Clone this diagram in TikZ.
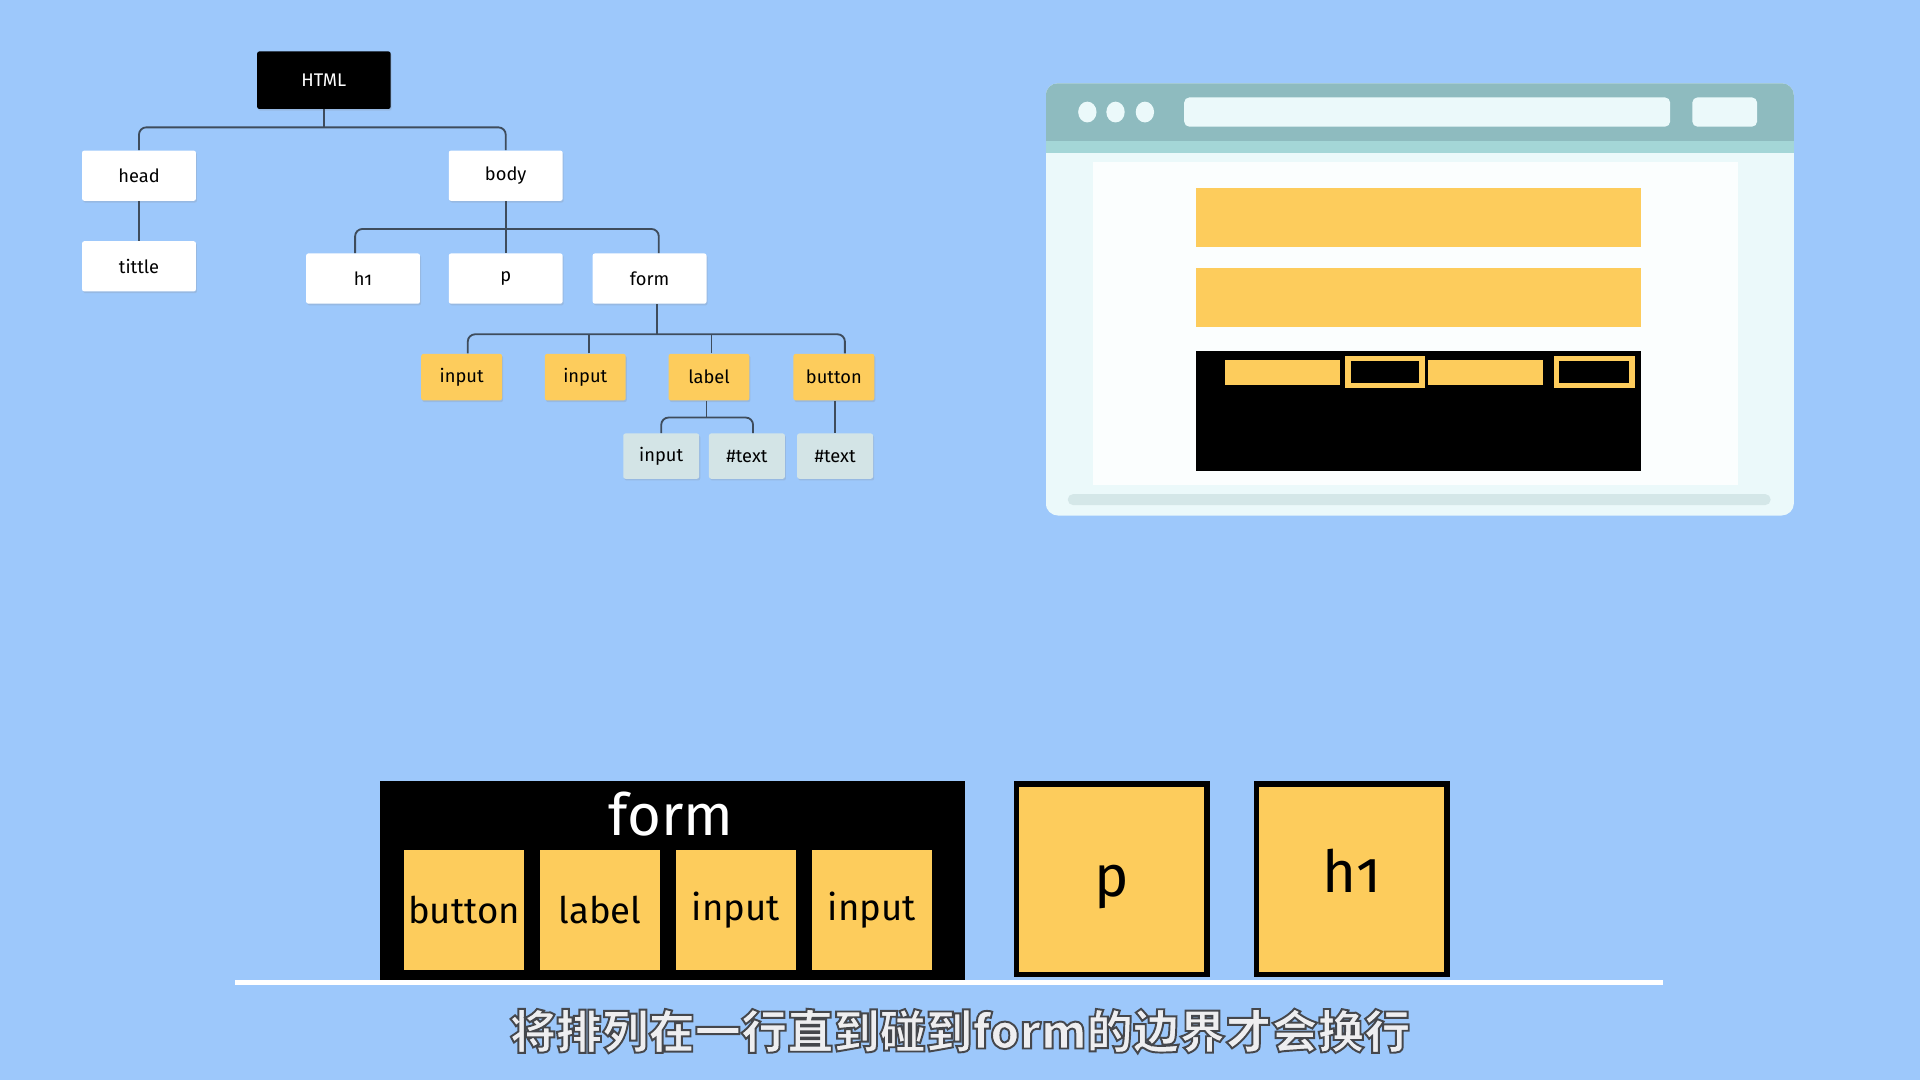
\documentclass[tikz,border=0pt]{standalone}
\usepackage{fontspec}
\setmainfont{Fira Sans}[Numbers=OldStyle]
\newfontfamily\cjk{Noto Sans CJK SC}
\usetikzlibrary{shadows}

\definecolor{bg}{RGB}{157,200,251}
\definecolor{tagyellow}{RGB}{253,204,92}
\definecolor{textgray}{RGB}{211,228,230}
\definecolor{wire}{RGB}{62,76,92}
\definecolor{barteal}{RGB}{142,187,191}
\definecolor{bandteal}{RGB}{164,214,215}
\definecolor{winbg}{RGB}{235,249,250}
\definecolor{pagebg}{RGB}{251,254,254}
\definecolor{scrollbg}{RGB}{212,231,232}
\definecolor{capfill}{RGB}{238,238,240}

\newcommand\outlined[1]{\special{pdf:code q 2 Tr 0.9 w 0.27 0.28 0.30 RG}#1\special{pdf:code Q}}

\tikzset{
  tag/.style={rectangle, rounded corners=1pt, inner sep=0pt,
    minimum width=1.86cm, minimum height=0.82cm, fill=white,
    font=\fontsize{8.5}{10}\selectfont,
    drop shadow={opacity=0.2, shadow xshift=0.5pt, shadow yshift=-0.8pt}},
  roottag/.style={tag, fill=black, text=white, minimum width=2.18cm, minimum height=0.94cm},
  formtag/.style={tag, fill=tagyellow, minimum width=1.32cm, minimum height=0.76cm},
  texttag/.style={tag, fill=textgray, minimum width=1.24cm, minimum height=0.74cm},
  link/.style={draw=wire, line width=0.85pt, rounded corners=3.4pt},
  cell/.style={rectangle, fill=tagyellow, inner sep=0pt, minimum size=1.96cm,
    font=\fontsize{17}{20}\selectfont},
  bigbox/.style={rectangle, fill=tagyellow, draw=black, line width=2.55pt,
    inner sep=0pt, minimum size=3.11cm, font=\fontsize{27}{32}\selectfont},
  captext/.style={font=\cjk\bfseries\fontsize{21.5}{26}\selectfont, inner sep=0pt, text=capfill}
}

\begin{document}
\begin{tikzpicture}[x=0.02cm, y=-0.02cm]

  \fill[bg] (0,0) rectangle (1568,882);
  \useasboundingbox (0,0) rectangle (1568,882);

  \node[roottag] (html) at (264.5,65.5) {HTML};
  \node[tag] (head) at (113.5,143.5) {head};
  \node[tag] (tittle) at (113.5,217.5) {tittle};
  \node[tag] (body) at (413,143.5) {body};
  \node[tag] (h1) at (296.5,227.5) {h1};
  \node[tag] (p) at (413,227.5) {p};
  \node[tag] (form) at (530.5,227.5) {form};

  \node[formtag] (in1) at (377,308) {input};
  \node[formtag] (in2) at (478,308) {input};
  \node[formtag] (lab) at (579,308) {label};
  \node[formtag] (btn) at (681,308) {button};

  \node[texttag] (in3) at (540,372.5) {input};
  \node[texttag] (txt1) at (610,372.5) {\#text};
  \node[texttag] (txt2) at (682,372.5) {\#text};

  \coordinate (bar1) at (0,104);
  \coordinate (bar2) at (0,187);
  \coordinate (bar3) at (0,273);
  \coordinate (bar4) at (0,341);

  \draw[link] (html.south) -- (html.south |- bar1);
  \draw[link] (head.north) -- (head.north |- bar1) -- (body.north |- bar1) -- (body.north);
  \draw[link] (head.south) -- (tittle.north);
  \draw[link] (body.south) -- (p.north);
  \draw[link] ([xshift=-0.13cm]h1.north) -- ([xshift=-0.13cm]h1.north |- bar2)
    -- ([xshift=0.15cm]form.north |- bar2) -- ([xshift=0.15cm]form.north);
  \draw[link] ([xshift=0.12cm]form.south) -- ([xshift=0.12cm]form.south |- bar3);
  \draw[link] ([xshift=0.1cm]in1.north) -- ([xshift=0.1cm]in1.north |- bar3)
    -- ([xshift=0.18cm]btn.north |- bar3) -- ([xshift=0.18cm]btn.north);
  \draw[link] ([xshift=0.06cm]in2.north) -- ([xshift=0.06cm]in2.north |- bar3);
  \draw[link] ([xshift=0.04cm]lab.north) -- ([xshift=0.04cm]lab.north |- bar3);
  \draw[link] ([xshift=-0.04cm]lab.south) -- ([xshift=-0.04cm]lab.south |- bar4);
  \draw[link] (in3.north) -- (in3.north |- bar4)
    -- ([xshift=0.1cm]txt1.north |- bar4) -- ([xshift=0.1cm]txt1.north);
  \draw[link] ([xshift=0.02cm]btn.south) -- (txt2.north);

  % browser window
  \begin{scope}
    \clip[rounded corners=5.7pt] (854,68) rectangle (1465,421);
    \fill[winbg] (854,68) rectangle (1465,421);
    \fill[barteal] (854,68) rectangle (1465,115);
    \fill[bandteal] (854,115) rectangle (1465,125);
  \end{scope}
  \fill[pagebg] (893,132) rectangle (1419,396);
  \foreach \x in {888,911,935}
    \fill[winbg] (\x,91.5) ellipse [x radius=7.5, y radius=8.5];
  \fill[winbg, rounded corners=2.5pt] (967,79.5) rectangle (1364,103.5);
  \fill[winbg, rounded corners=2.5pt] (1382,79.5) rectangle (1435,103.5);
  \fill[scrollbg, rounded corners=2.5pt] (872,403.5) rectangle (1446,412.5);

  \fill[tagyellow] (977,153.5) rectangle (1340,201.5);
  \fill[tagyellow] (977,219) rectangle (1340,267);
  \fill[black] (977,286.5) rectangle (1340,384.5);
  \fill[tagyellow] (1000.5,294) rectangle (1094.5,314.5);
  \fill[tagyellow] (1166,294) rectangle (1260,314.5);
  \foreach \a/\b in {1098.5/1163.5, 1269/1335} {
    \fill[tagyellow] (\a,290.5) rectangle (\b,317);
    \fill[black] (\a+4.5,295) rectangle (\b-4.5,312.5);
  }

  % inline boxes
  \node[rectangle, fill=black, inner sep=0pt, minimum width=9.56cm, minimum height=3.24cm] (formbox) at (549,719) {};
  \node[text=white, font=\fontsize{27}{32}\selectfont] (formtitle) at (548,665) {form};
  \node[cell] (cbtn) at (379,743) {button};
  \node[cell] (clab) at (490,743) {label};
  \node[cell] (cin1) at (601,743) {input};
  \node[cell] (cin2) at (712,743) {input};

  \node[bigbox] (pbox) at (908,718) {\raisebox{-0.12cm}[\height][\depth]{p}};
  \node[bigbox] (hbox) at (1104,718) {\raisebox{0.13cm}[\height][\depth]{h1}};

  \coordinate (g1) at (192,802.5);
  \coordinate (g2) at (1358,802.5);
  \draw[white, line width=2.4pt] (g1) -- (g2);

  \node[captext] (caption) at (784,842) {\outlined{将排列在一行直到碰到form的边界才会换行}};

\end{tikzpicture}
\end{document}
